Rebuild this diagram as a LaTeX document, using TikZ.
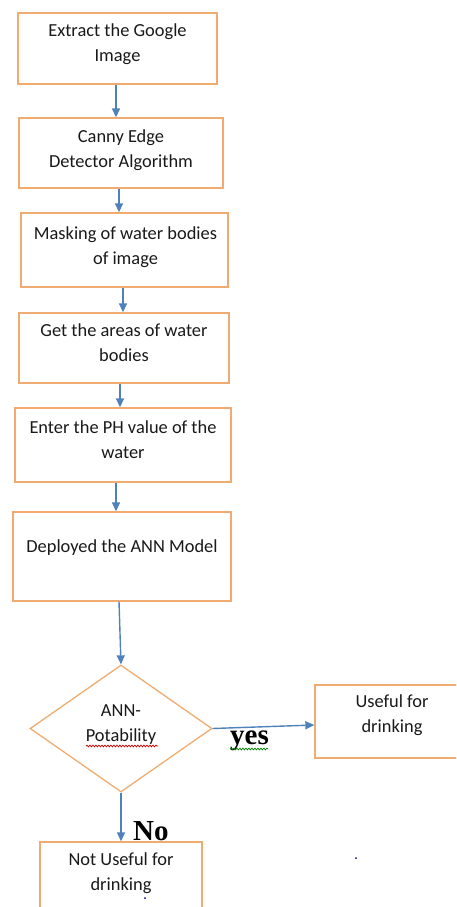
\documentclass[tikz,border=0pt]{standalone}
\usepackage{fontspec}
\setmainfont{Carlito}
\newfontfamily\timesfont{Liberation Serif}
\usetikzlibrary{arrows.meta,shapes.geometric,decorations.pathmorphing}
\definecolor{boxc}{RGB}{240,172,112}
\definecolor{arrc}{RGB}{79,129,189}
\definecolor{txtc}{RGB}{25,25,25}
\begin{document}
\begin{tikzpicture}[x=1pt,y=-1pt,
 flowbox/.style={draw=boxc,line width=1.3pt,rectangle,inner sep=0pt},
 decbox/.style={draw=boxc,line width=1.3pt,diamond,inner sep=0pt},
 txt/.style={text=txtc,font=\fontsize{18.4}{25}\selectfont,align=center,inner sep=0pt},
 arr/.style={draw=arrc,line width=1.4pt,-{Triangle[length=9pt,width=8pt]}},
 lbl/.style={font=\timesfont\bfseries\fontsize{29}{30}\selectfont,text=black,inner sep=0pt},
 wavy/.style={line width=0.7pt,decorate,decoration={snake,amplitude=0.9pt,segment length=3pt}}]
\useasboundingbox (0,0) rectangle (456,907);
\clip (0,0) rectangle (456,907);
% boxes
\node[flowbox,minimum width=199pt,minimum height=71pt] (b1) at (117.5,48.5) {};
\node[flowbox,minimum width=204pt,minimum height=70pt] (b2) at (121,153) {};
\node[flowbox,minimum width=207pt,minimum height=74pt] (b3) at (124.5,250) {};
\node[flowbox,minimum width=210pt,minimum height=70pt] (b4) at (124,348) {};
\node[flowbox,minimum width=216pt,minimum height=74pt] (b5) at (123,445) {};
\node[flowbox,minimum width=218pt,minimum height=89pt] (b6) at (122,556.5) {};
\node[decbox,minimum width=182pt,minimum height=127pt] (d) at (121,728.5) {};
\node[flowbox,minimum width=154pt,minimum height=73pt] (u) at (392,721.5) {};
\node[flowbox,minimum width=162pt,minimum height=80pt] (n) at (121,882) {};
% texts
\node[txt] (t1) at (117.5,44.5) {Extract the Google\\Image};
\node[txt] (t2) at (121,150.5) {Canny Edge\\Detector Algorithm};
\node[txt] (t3) at (125.5,247.5) {Masking of water bodies\\of image};
\node[txt] (t4) at (124,342.5) {Get the areas of water\\bodies};
\node[txt] (t5) at (123,439.5) {Enter the PH value of the\\water};
\node[txt] (t6) at (122,548) {Deployed the ANN Model};
\node[txt] (td) at (121,724.5) {ANN-\\Potability};
\node[txt] (tu) at (392,715.5) {Useful for\\drinking};
\node[txt] (tn) at (121,873) {Not Useful for\\drinking};
% labels
\node[lbl,anchor=base west] (yes) at (230,744) {yes};
\node[lbl,anchor=base west] (no) at (133,840) {No};
% connectors
\draw[arr] (b1.south -| 116,0) -- (b2.north -| 116,0);
\draw[arr] (b2.south -| 119,0) -- (b3.north -| 119,0);
\draw[arr] (b3.south -| 123,0) -- (b4.north -| 123,0);
\draw[arr] (b4.south -| 120,0) -- (b5.north -| 120,0);
\draw[arr] (b5.south -| 116,0) -- (b6.north -| 116,0);
\draw[arr] (b6.south -| 119,0) -- (d.north);
\draw[arr] (d.east) -- (u.west |- 0,725);
\draw[arr] (d.south) -- (n.north -| d.south);
% spell-check underlines and stray dots
\draw[wavy,red!80!black] (86,746) -- (158,746);
\draw[wavy,green!50!black] (230,749) -- (268,749);
\fill[blue!70!black] (356,858) circle (1pt);
\fill[blue!70!black] (145,898) circle (1pt);
\end{tikzpicture}
\end{document}
